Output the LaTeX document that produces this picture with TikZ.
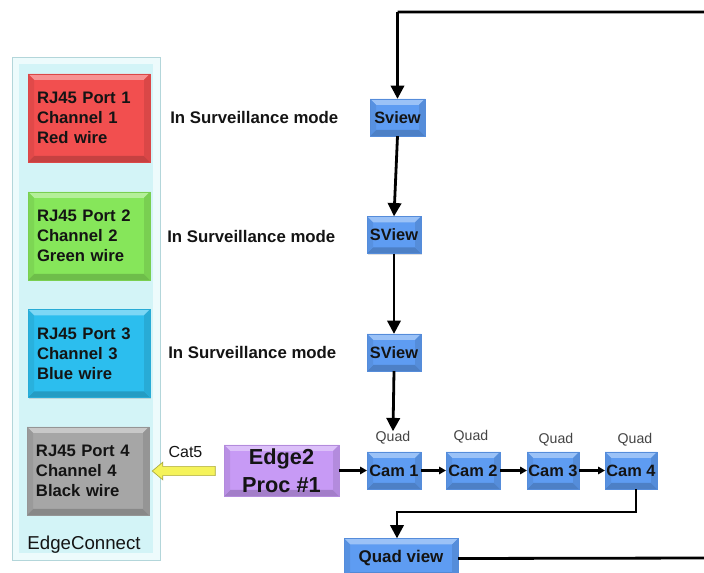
\documentclass[tikz,border=0pt]{standalone}
\usepackage{fontspec}
\setmainfont{Liberation Sans}
\usetikzlibrary{shadows,shapes.arrows,arrows.meta}

\definecolor{portred}{HTML}{F24F4F}
\definecolor{portgreen}{HTML}{86E65A}
\definecolor{portblue}{HTML}{2CBEEE}
\definecolor{portgray}{HTML}{A6A6A6}
\definecolor{camblue}{HTML}{5E9CF2}
\definecolor{procpurple}{HTML}{C79AF5}
\definecolor{panelfill}{HTML}{D3F4F7}
\definecolor{panelline}{HTML}{B3D6DA}
\definecolor{cableyellow}{HTML}{F5F35A}
\definecolor{inktext}{HTML}{141414}

\tikzset{
  % raised box with four softly bevelled faces
  bevelbox/.style={
    fill=#1, draw=#1!90!black, line width=0.2pt,
    drop shadow={shadow xshift=1.1pt, shadow yshift=-1.1pt, opacity=0.25},
    path picture={
      \fill[#1!62!white]
        (path picture bounding box.north west) -- (path picture bounding box.north east)
        -- ([xshift=-4.5pt,yshift=-4.5pt]path picture bounding box.north east)
        -- ([xshift=4.5pt,yshift=-4.5pt]path picture bounding box.north west) -- cycle;
      \fill[#1!82!black]
        (path picture bounding box.south west) -- (path picture bounding box.south east)
        -- ([xshift=-4.5pt,yshift=4.5pt]path picture bounding box.south east)
        -- ([xshift=4.5pt,yshift=4.5pt]path picture bounding box.south west) -- cycle;
      \fill[#1!93!black]
        (path picture bounding box.north west) -- (path picture bounding box.south west)
        -- ([xshift=4.5pt,yshift=4.5pt]path picture bounding box.south west)
        -- ([xshift=4.5pt,yshift=-4.5pt]path picture bounding box.north west) -- cycle;
      \fill[#1!90!black]
        (path picture bounding box.north east) -- (path picture bounding box.south east)
        -- ([xshift=-4.5pt,yshift=4.5pt]path picture bounding box.south east)
        -- ([xshift=-4.5pt,yshift=-4.5pt]path picture bounding box.north east) -- cycle;
    }},
  panelbox/.style={
    fill=panelfill, draw=panelline, line width=0.6pt,
    drop shadow={shadow xshift=1.1pt, shadow yshift=-1.1pt, opacity=0.2},
    path picture={
      \draw[panelfill!40!white, line width=5pt]
        ([xshift=2.5pt,yshift=-2.5pt]path picture bounding box.north west) rectangle
        ([xshift=-2.5pt,yshift=2.5pt]path picture bounding box.south east);
    }},
  portbox/.style={bevelbox=#1, minimum width=91.5pt, minimum height=66pt,
    text width=78pt, inner xsep=6.75pt, align=left, text=inktext,
    font=\bfseries\fontsize{12.5}{15}\selectfont},
  viewbox/.style={bevelbox=camblue, minimum height=27.75pt, inner sep=0pt,
    text=inktext, font=\bfseries\fontsize{12.3}{14}\selectfont},
  modelabel/.style={anchor=west, inner sep=0pt, text=inktext,
    font=\bfseries\fontsize{12.6}{14}\selectfont},
  quadlabel/.style={inner sep=0pt, text=inktext!80!white,
    font=\fontsize{10.6}{12}\selectfont},
  flow/.style={line width=2.1pt, -{Triangle[width=10pt,length=10pt]}},
  smallflow/.style={line width=1.6pt, -{Triangle[width=5.5pt,length=5pt]}},
  loopline/.style={line width=2.1pt},
}

\begin{document}
\begin{tikzpicture}[x=0.75pt, y=-0.75pt]
\useasboundingbox (0,0) rectangle (704,573);
\clip (0,0) rectangle (704,573);

% EdgeConnect panel
\node[panelbox, minimum width=111pt, minimum height=377.25pt] (panel) at (86,308.5) {};
\node[text=inktext, font=\fontsize{14}{16}\selectfont] (paneltitle) at (84,545) {EdgeConnect};

% RJ45 ports
\node[portbox=portred]   (p1) at (89,118)   {RJ45 Port 1\\Channel 1\\Red wire};
\node[portbox=portgreen] (p2) at (89,236)   {RJ45 Port 2\\Channel 2\\Green wire};
\node[portbox=portblue]  (p3) at (89,353.5) {RJ45 Port 3\\Channel 3\\Blue wire};
\node[portbox=portgray]  (p4) at (88,471)   {RJ45 Port 4\\Channel 4\\Black wire};

% mode labels
\node[modelabel] (m1) at (170,118) {In Surveillance mode};
\node[modelabel] (m2) at (167,236) {In Surveillance mode};
\node[modelabel] (m3) at (168,352) {In Surveillance mode};

% single-view stages
\node[viewbox, minimum width=41.25pt] (s1) at (397.5,117.5) {Sview};
\node[viewbox, minimum width=40.5pt]  (s2) at (394,235)     {SView};
\node[viewbox, minimum width=40.5pt]  (s3) at (394,352.5)   {SView};

% processor
\node[bevelbox=procpurple, minimum width=86.25pt, minimum height=38.25pt,
      align=center, inner sep=0pt, text=inktext,
      font=\bfseries\fontsize{16.3}{21}\selectfont] (proc) at (281.5,470.5) {Edge2\\Proc \#1};

% cable to port 4
\node[text=inktext, font=\fontsize{12}{14}\selectfont] (cat5) at (185.5,452) {Cat5};
\node[single arrow, shape border rotate=180, fill=cableyellow, draw=cableyellow!70!black,
      line width=0.5pt, minimum height=47.25pt, inner xsep=0pt, inner ysep=3.2pt,
      single arrow head extend=3.2pt, single arrow tip angle=80] (cable) at (186.5,471) {};

% quad cameras
\node[viewbox, minimum width=40.5pt] (c1) at (394,470.5) {Cam 1};
\node[viewbox, minimum width=40.5pt] (c2) at (473,470.5) {Cam 2};
\node[viewbox, minimum width=39pt]   (c3) at (553,470.5) {Cam 3};
\node[viewbox, minimum width=39pt]   (c4) at (631,470.5) {Cam 4};
\node[quadlabel] (q1) at (393,438) {Quad};
\node[quadlabel] (q2) at (471,437) {Quad};
\node[quadlabel] (q3) at (556,440) {Quad};
\node[quadlabel] (q4) at (635,440) {Quad};

% quad view output
\node[viewbox, minimum width=85.5pt, minimum height=30pt,
      font=\bfseries\fontsize{12.7}{14}\selectfont] (qv) at (401,558.5) {Quad view};

% connectors
\draw[flow] (s1.south) -- (s2.north);
\draw[flow] (s2.south) -- (s3.north);
\draw[flow] (s3.south) -- (q1.north);
\draw[smallflow] (proc.east) -- (c1.west);
\draw[smallflow] (c1.east) -- (c2.west);
\draw[smallflow] (c2.east) -- (c3.west);
\draw[smallflow] (c3.east) -- (c4.west);

\coordinate (bend) at (397,512);
\draw[flow] ([xshift=3.75pt]c4.south) |- (bend) -- (bend |- qv.north);

% feedback loop from quad view back to the first view
\coordinate (loopR) at (712,558);
\coordinate (loopT) at (712,12);
\draw[loopline] (qv.east) -- (loopR) -- (loopT) -- (loopT -| s1.north);
\draw[flow] (loopT -| s1.north) -- (s1.north);
\end{tikzpicture}
\end{document}
